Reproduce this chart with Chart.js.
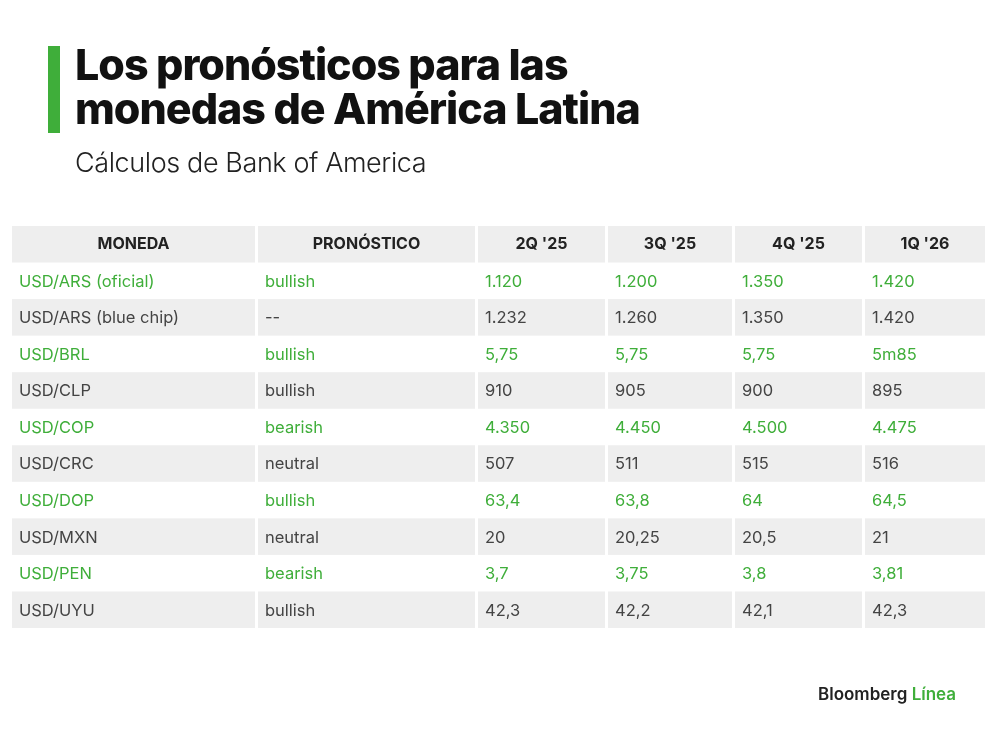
<!DOCTYPE html>
<html><head><meta charset="utf-8">
<script src="https://cdn.jsdelivr.net/npm/chart.js@4"></script>
<style>
body{margin:0;background:#fff;font-family:Inter,"Noto Sans",sans-serif;}
#wrap{position:relative;width:1000px;height:740px;}
canvas{position:absolute;left:0;top:0;}
.bar{position:absolute;left:48px;top:46px;width:12px;height:87px;background:#3fae3a;}
h1{position:absolute;left:75px;top:42px;margin:0;font-size:43px;line-height:44px;font-weight:800;letter-spacing:-1px;color:#111;}
.sub{position:absolute;left:75px;top:146px;font-size:27px;font-weight:300;color:#222;letter-spacing:-0.4px;}
.logo{position:absolute;left:818px;top:684px;font-size:17px;font-weight:600;color:#222;}
.logo span{color:#3fae3a;}
</style></head><body>
<div id="wrap">
<canvas id="c" width="1000" height="740"></canvas>
<div class="bar"></div>
<h1>Los pronósticos para las<br>monedas de América Latina</h1>
<div class="sub">Cálculos de Bank of America</div>
<div class="logo">Bloomberg <span>Línea</span></div>
</div>
<script>
const headers = ['MONEDA', 'PRONÓSTICO', "2Q '25", "3Q '25", "4Q '25", "1Q '26"];
const monedas = ['USD/ARS (oficial)', 'USD/ARS (blue chip)', 'USD/BRL', 'USD/CLP', 'USD/COP', 'USD/CRC', 'USD/DOP', 'USD/MXN', 'USD/PEN', 'USD/UYU'];
const pronostico = ['bullish', '--', 'bullish', 'bullish', 'bearish', 'neutral', 'bullish', 'neutral', 'bearish', 'bullish'];
const q2_25 = ['1.120', '1.232', '5,75', '910', '4.350', '507', '63,4', '20', '3,7', '42,3'];
const q3_25 = ['1.200', '1.260', '5,75', '905', '4.450', '511', '63,8', '20,25', '3,75', '42,2'];
const q4_25 = ['1.350', '1.350', '5,75', '900', '4.500', '515', '64', '20,5', '3,8', '42,1'];
const q1_26 = ['1.420', '1.420', '5m85', '895', '4.475', '516', '64,5', '21', '3,81', '42,3'];

const columns = [monedas, pronostico, q2_25, q3_25, q4_25, q1_26];
const rowLabels = ['header'].concat(monedas);
// column edges in px (layout)
const colX = [12, 258, 478, 608, 735, 865, 985];
const green = '#3fae3a', gray = '#eeeeee';

const tablePlugin = {
  id: 'table',
  beforeDatasetsDraw(chart) {
    const ctx = chart.ctx, y = chart.scales.y;
    const h = Math.abs(y.getPixelForValue(1) - y.getPixelForValue(0));
    rowLabels.forEach((r, i) => {
      const cy = y.getPixelForValue(i);
      const shaded = i === 0 || i % 2 === 0;
      for (let c = 0; c < 6; c++) {
        const x0 = colX[c], x1 = colX[c + 1] - (c < 5 ? 3 : 0);
        if (shaded) { ctx.fillStyle = gray; ctx.fillRect(x0, cy - h / 2, x1 - x0, h); }
        ctx.textBaseline = 'middle';
        if (i === 0) {
          ctx.font = 'bold 16px Inter, "Noto Sans", sans-serif';
          ctx.fillStyle = '#222';
          ctx.textAlign = 'center';
          ctx.fillText(headers[c], (x0 + x1) / 2, cy);
        } else {
          ctx.font = '16.5px Inter, "Noto Sans", sans-serif';
          ctx.fillStyle = shaded ? '#444' : green;
          ctx.textAlign = 'left';
          ctx.fillText(columns[c][i - 1], x0 + 7, cy + 1);
        }
      }
    });
  }
};

new Chart(document.getElementById('c'), {
  type: 'bar',
  data: { labels: rowLabels, datasets: [{ data: rowLabels.map(() => null) }] },
  options: {
    responsive: false, animation: false, indexAxis: 'y',
    layout: { padding: { top: 226, bottom: 112, left: 12, right: 15 } },
    plugins: { legend: { display: false }, tooltip: { enabled: false } },
    scales: {
      y: { type: 'category', display: false, offset: true },
      x: { display: false, min: 0, max: 1 }
    }
  },
  plugins: [tablePlugin]
});
</script>
</body></html>
